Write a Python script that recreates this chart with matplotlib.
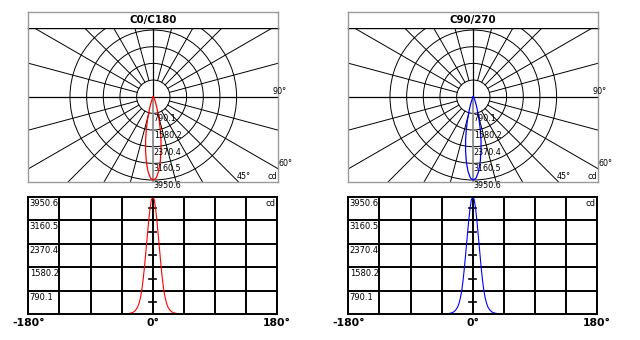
import numpy as np
import matplotlib
matplotlib.use("Agg")
import matplotlib.pyplot as plt
from matplotlib.patches import Circle

plt.rcParams["font.family"] = "DejaVu Sans"

# intensity (cd) vs angle from nadir (beam is symmetric)
ANGLES = [0, 2, 4, 6, 8, 10, 12, 14, 16, 18, 20, 22, 25, 28, 32, 36, 40, 45, 50, 55, 60]
CD = [3950.6, 3860, 3560, 3130, 2620, 2110, 1600, 1150, 790, 540, 360, 235,
      130, 70, 35, 18, 9, 5, 3, 1, 0]
RINGS = [790.1, 1580.2, 2370.4, 3160.5, 3950.6]
PLANES = ["C0/C180", "C90/270"]
COLORS = ["#ff0000", "#0000ff"]
SPOKE_STEP = 15
X_TICKS = [-180, 0, 180]
X_GRID = list(range(-180, 181, 45))

W, H = 640, 340
RING_PX = 16.66                    # pixel spacing between rings
CD_PER_PX = RINGS[0] / RING_PX


def px_axes(fig, x0, y0, x1, y1):
    return fig.add_axes([x0 / W, 1 - y1 / H, (x1 - x0) / W, (y1 - y0) / H])


def full_curve():
    a = np.array(ANGLES, dtype=float)
    c = np.array(CD, dtype=float)
    return np.concatenate([-a[::-1], a[1:]]), np.concatenate([c[::-1], c[1:]])


def draw_polar(ax, tax, title, color):
    # pixel extent of the plot area relative to centre
    ax.set_xlim(-125 * CD_PER_PX, 125 * CD_PER_PX)
    ax.set_ylim(-85 * CD_PER_PX, 68.4 * CD_PER_PX)
    ax.set_xticks([]); ax.set_yticks([])
    for s in ax.spines.values():
        s.set_color("#9a9a9a"); s.set_linewidth(1)
    ax.spines["top"].set_color("black")

    for r in RINGS:
        ax.add_patch(Circle((0, 0), r, fill=False, ec="black", lw=0.7))
    far = 20000
    for d in range(0, 360, SPOKE_STEP):
        if d % 90 == 0:
            continue
        t = np.radians(d)
        ax.plot([RINGS[0] * np.sin(t), far * np.sin(t)],
                [-RINGS[0] * np.cos(t), -far * np.cos(t)], color="black", lw=0.7)
    ax.axhline(0, color="black", lw=0.9)
    ax.plot([0, 0], [0, far], color="black", lw=0.9)
    ax.plot([0, 0], [0, -far], color="#8c8c8c", lw=1.3)

    ang, cd = full_curve()
    t = np.radians(ang)
    ax.plot(cd * np.sin(t), -cd * np.cos(t), color=color, lw=0.9)

    for r in RINGS:
        ax.annotate(f"{r}", (0, -r), xytext=(0.3, -0.8), textcoords="offset points",
                    ha="left", va="top", fontsize=5.8, annotation_clip=False)

    x0, x1 = ax.get_xlim()
    y0, y1 = ax.get_ylim()
    kw = dict(fontsize=5.8, annotation_clip=False, textcoords="offset points")
    ax.annotate("90°", (x1, 0), xytext=(-4, 0.5), ha="left", va="bottom", **kw)
    ax.annotate("60°", (x1, -x1 / np.tan(np.radians(60))), xytext=(0, 0.5),
                ha="left", va="bottom", **kw)
    ax.annotate("45°", (-y0 * np.tan(np.radians(45)), y0), xytext=(-1.5, 0.5),
                ha="left", va="bottom", **kw)
    ax.annotate("cd", (x1, y0), xytext=(-0.5, 0.5), ha="right", va="bottom", **kw)

    tax.set_xticks([]); tax.set_yticks([])
    for s in tax.spines.values():
        s.set_color("#9a9a9a"); s.set_linewidth(1)
    tax.spines["bottom"].set_visible(False)
    tax.text(0.5, 0.5, title, ha="center", va="center", fontsize=7.4,
             fontweight="bold", transform=tax.transAxes)


def draw_linear(ax, color):
    ax.set_xlim(-180, 180)
    ax.set_ylim(0, RINGS[-1])
    for x in X_GRID:
        ax.axvline(x, color="black", lw=1.4)
    for v in RINGS[:-1]:
        ax.axhline(v, color="black", lw=1.4)
    for s in ax.spines.values():
        s.set_color("black"); s.set_linewidth(1.4)

    mids = [v - RINGS[0] / 2 for v in RINGS]
    for m in mids:
        ax.plot([-5, 5], [m, m], color="black", lw=1.2)

    ang, cd = full_curve()
    ax.plot(ang, cd, color=color, lw=0.8)

    for v in RINGS:
        ax.annotate(f"{v}", (-180, v), xytext=(1.0, -1.3), textcoords="offset points",
                    ha="left", va="top", fontsize=6)
    ax.annotate("cd", (180, RINGS[-1]), xytext=(-1.5, -1.3), textcoords="offset points",
                ha="right", va="top", fontsize=6)

    ax.set_yticks([])
    ax.set_xticks(X_TICKS)
    ax.set_xticklabels([f"{x}°" for x in X_TICKS], fontsize=7.8, fontweight="bold")
    ax.tick_params(axis="x", length=0, pad=3)


fig = plt.figure(figsize=(W / 100, H / 100), dpi=100)
for i, (plane, color) in enumerate(zip(PLANES, COLORS)):
    dx = 320 * i
    pax = px_axes(fig, 28.3 + dx, 28.3, 278.3 + dx, 181.7)
    tax = px_axes(fig, 28.3 + dx, 12.3, 278.3 + dx, 28.3)
    lax = px_axes(fig, 28.3 + dx, 196.7, 277.3 + dx, 314.2)
    draw_polar(pax, tax, plane, color)
    draw_linear(lax, color)

fig.savefig("out.png", dpi=100)
